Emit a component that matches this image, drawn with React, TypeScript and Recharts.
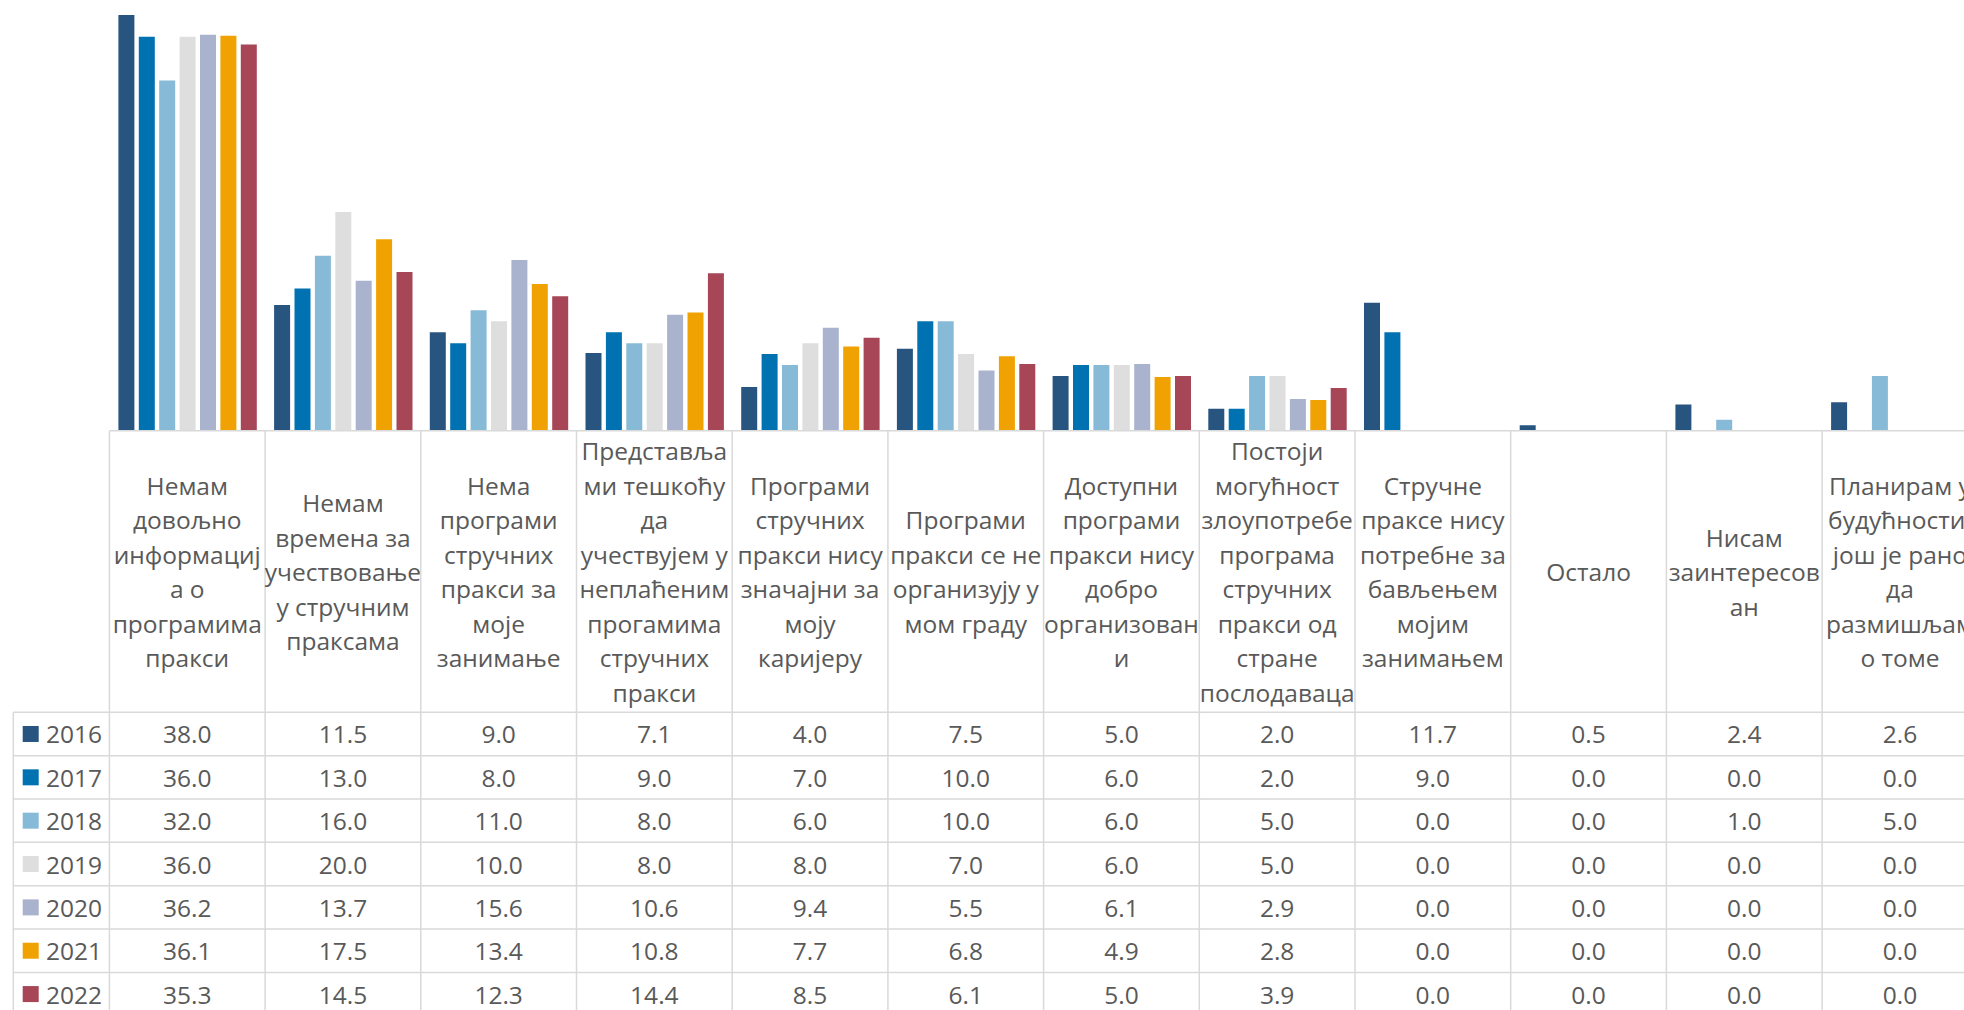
import React from 'react';
import { BarChart, Bar, XAxis, YAxis } from 'recharts';

const categoryLines: string[][] = [
  ['Немам', 'довољно', 'информациј', 'а о', 'програмима', 'пракси'],
  ['Немам', 'времена за', 'учествовање', 'у стручним', 'праксама'],
  ['Нема', 'програми', 'стручних', 'пракси за', 'моје', 'занимање'],
  ['Представља', 'ми тешкоћу', 'да', 'учествујем у', 'неплаћеним', 'прогамима', 'стручних', 'пракси'],
  ['Програми', 'стручних', 'пракси нису', 'значајни за', 'моју', 'каријеру'],
  ['Програми', 'пракси се не', 'организују у', 'мом граду'],
  ['Доступни', 'програми', 'пракси нису', 'добро', 'организован', 'и'],
  ['Постоји', 'могућност', 'злоупотребе', 'програма', 'стручних', 'пракси од', 'стране', 'послодаваца'],
  ['Стручне', 'праксе нису', 'потребне за', 'бављењем', 'мојим', 'занимањем'],
  ['Остало'],
  ['Нисам', 'заинтересов', 'ан'],
  ['Планирам у', 'будућности,', 'још је рано', 'да', 'размишљам', 'о томе'],
];

const years = ['2016', '2017', '2018', '2019', '2020', '2021', '2022'];

const v2016 = [38.0, 11.5, 9.0, 7.1, 4.0, 7.5, 5.0, 2.0, 11.7, 0.5, 2.4, 2.6];
const v2017 = [36.0, 13.0, 8.0, 9.0, 7.0, 10.0, 6.0, 2.0, 9.0, 0.0, 0.0, 0.0];
const v2018 = [32.0, 16.0, 11.0, 8.0, 6.0, 10.0, 6.0, 5.0, 0.0, 0.0, 1.0, 5.0];
const v2019 = [36.0, 20.0, 10.0, 8.0, 8.0, 7.0, 6.0, 5.0, 0.0, 0.0, 0.0, 0.0];
const v2020 = [36.2, 13.7, 15.6, 10.6, 9.4, 5.5, 6.1, 2.9, 0.0, 0.0, 0.0, 0.0];
const v2021 = [36.1, 17.5, 13.4, 10.8, 7.7, 6.8, 4.9, 2.8, 0.0, 0.0, 0.0, 0.0];
const v2022 = [35.3, 14.5, 12.3, 14.4, 8.5, 6.1, 5.0, 3.9, 0.0, 0.0, 0.0, 0.0];

const seriesValues = [v2016, v2017, v2018, v2019, v2020, v2021, v2022];
const seriesColors = ['#28557F', '#0072B2', '#87BAD7', '#DEDEDE', '#A9B3CE', '#F0A202', '#A64656'];

const data = categoryLines.map((lines, i) => {
  const row: Record<string, any> = { category: lines.join(' '), idx: i };
  years.forEach((yr, s) => {
    row['y' + yr] = seriesValues[s][i];
  });
  return row;
});

const CHART_W = 1990;
const CHART_H = 1020;
const PLOT_LEFT = 109.4;
const BAND = 155.7;
const PLOT_W = BAND * categoryLines.length;
const PLOT_H = 430.7;
const HEADER_H = 281.6;
const ROW_H = 43.35;
const LINE_H = 34.5;
const TABLE_LEFT = 13.3;
const FONT = '"Open Sans", "Noto Sans", sans-serif';
const FONT_SIZE = 24.5;
const TEXT_COLOR = '#595959';
const GRID = '#D9D9D9';
const GRID_W = 1.5;

const TableTick = (props: any) => {
  const { x, y, payload } = props;
  const index: number = props.index ?? payload?.index ?? 0;
  const bw = payload && payload.offset ? payload.offset * 2 : BAND;
  const left = x - bw / 2;
  const right = x + bw / 2;
  const tableTop = y;
  const rowsTop = tableTop + HEADER_H;
  const tableBottom = rowsTop + ROW_H * years.length;
  const lines = categoryLines[index] || [];
  const headerMid = tableTop + HEADER_H / 2;
  const els: React.ReactNode[] = [];

  // vertical borders
  els.push(<line key="vl" x1={left} x2={left} y1={tableTop} y2={tableBottom} stroke={GRID} strokeWidth={GRID_W} />);
  if (index === categoryLines.length - 1) {
    els.push(<line key="vr" x1={right} x2={right} y1={tableTop} y2={tableBottom} stroke={GRID} strokeWidth={GRID_W} />);
  }
  // horizontal row borders
  for (let r = 0; r <= years.length; r++) {
    const yy = rowsTop + r * ROW_H;
    els.push(<line key={'h' + r} x1={left} x2={right} y1={yy} y2={yy} stroke={GRID} strokeWidth={GRID_W} />);
  }
  // header text
  lines.forEach((ln, i) => {
    const cy = headerMid + (i - (lines.length - 1) / 2) * LINE_H;
    els.push(
      <text key={'t' + i} x={x} y={cy} textAnchor="middle" dominantBaseline="central"
        fontFamily={FONT} fontSize={FONT_SIZE} fill={TEXT_COLOR}>{ln}</text>
    );
  });
  // values
  years.forEach((yr, s) => {
    const cy = rowsTop + (s + 0.5) * ROW_H;
    els.push(
      <text key={'v' + s} x={x} y={cy} textAnchor="middle" dominantBaseline="central"
        fontFamily={FONT} fontSize={FONT_SIZE} fill={TEXT_COLOR}>{seriesValues[s][index].toFixed(1)}</text>
    );
  });
  // legend column
  if (index === 0) {
    els.push(<line key="ll" x1={TABLE_LEFT} x2={TABLE_LEFT} y1={rowsTop} y2={tableBottom} stroke={GRID} strokeWidth={GRID_W} />);
    for (let r = 0; r <= years.length; r++) {
      const yy = rowsTop + r * ROW_H;
      els.push(<line key={'lh' + r} x1={TABLE_LEFT} x2={left} y1={yy} y2={yy} stroke={GRID} strokeWidth={GRID_W} />);
    }
    years.forEach((yr, s) => {
      const cy = rowsTop + (s + 0.5) * ROW_H;
      els.push(<rect key={'lk' + s} x={22.7} y={cy - 8} width={16} height={16} fill={seriesColors[s]} />);
      els.push(
        <text key={'ly' + s} x={46} y={cy} textAnchor="start" dominantBaseline="central"
          fontFamily={FONT} fontSize={FONT_SIZE} fill={TEXT_COLOR}>{yr}</text>
      );
    });
  }
  return <g>{els}</g>;
};

export default function App() {
  return (
    <div style={{ position: 'fixed', left: 0, top: 0, width: 1964, height: 1010, overflow: 'hidden', background: '#fff' }}>
      <BarChart
        width={CHART_W}
        height={CHART_H}
        data={data}
        margin={{ top: 0, left: PLOT_LEFT, right: CHART_W - PLOT_LEFT - PLOT_W, bottom: 0 }}
        barGap={4.4}
        barCategoryGap={0}
      >
        <YAxis hide domain={[0, 430.7 / 10.94]} type="number" allowDataOverflow />
        <XAxis
          dataKey="category"
          type="category"
          interval={0}
          height={CHART_H - PLOT_H}
          tickLine={false}
          tickSize={0}
          tickMargin={0}
          axisLine={{ stroke: GRID, strokeWidth: GRID_W }}
          tick={<TableTick />}
        />
        {years.map((yr, s) => (
          <Bar key={yr} dataKey={'y' + yr} name={yr} fill={seriesColors[s]} barSize={16} isAnimationActive={false} />
        ))}
      </BarChart>
    </div>
  );
}
